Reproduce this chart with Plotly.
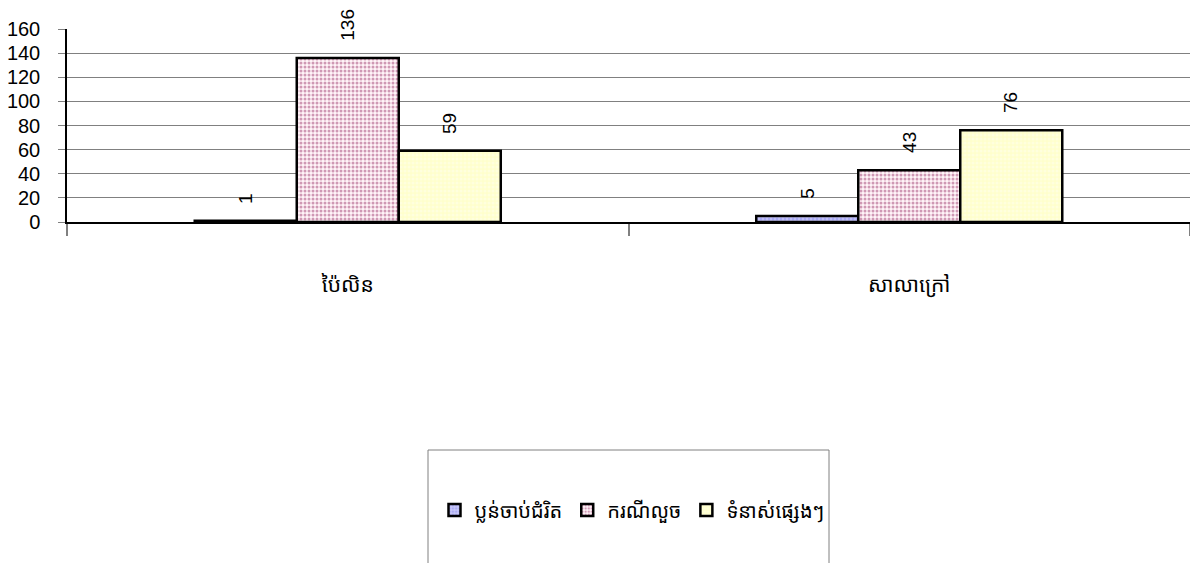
import plotly.graph_objects as go

# Cases by location
categories = ["ប៉ៃលិន", "សាលាក្រៅ"]
series_names = ["ប្លន់ចាប់ជំរិត", "ករណីលួច", "ទំនាស់ផ្សេងៗ"]
robbery_kidnap = [1, 5]
theft = [136, 43]
other_disputes = [59, 76]
y_ticks = [0, 20, 40, 60, 80, 100, 120, 140, 160]

series_values = [robbery_kidnap, theft, other_disputes]
styles = [
    dict(bg="#C8C8F8", fg="#8C8CF0"),
    dict(bg="#FFF4F8", fg="#A03C70"),
    dict(bg="#FFFFCC", fg="#FFFFF0"),
]

W, H = 1190, 563
L, R, T, B = 67, 0, 29, 341
plot_w = W - L - R
plot_h = H - T - B
bargap = 0.455
n_series = len(series_values)
bar_w = (1 - bargap) / n_series

khmer_font = "Noto Sans Khmer, Khmer OS, Khmer OS System, Noto Sans, sans-serif"
fig = go.Figure()
for name, vals, st in zip(series_names, series_values, styles):
    fig.add_trace(go.Bar(
        x=categories, y=vals, name=name,
        marker=dict(
            color=st["bg"],
            line=dict(color="black", width=2.5),
            pattern=dict(shape=".", bgcolor=st["bg"], fgcolor=st["fg"],
                         size=4, solidity=0.45, fillmode="overlay"),
        ),
    ))

# Vertical value labels above each bar
annotations = []
for i, vals in enumerate(series_values):
    for j, v in enumerate(vals):
        annotations.append(dict(
            x=j + (i - (n_series - 1) / 2) * bar_w, y=v,
            xref="x", yref="y", text=str(v), textangle=-90,
            showarrow=False, yanchor="bottom", xanchor="center",
            yshift=15, font=dict(family="Liberation Sans, Arial", size=19, color="black"),
        ))

fig.update_layout(
    width=W, height=H,
    margin=dict(l=L, r=R, t=T, b=B, pad=0),
    paper_bgcolor="white", plot_bgcolor="white",
    barmode="group", bargap=bargap, bargroupgap=0,
    font=dict(family="Liberation Sans, Arial", color="black"),
    showlegend=True,
    legend=dict(
        orientation="h", x=(632 - L) / plot_w, y=(T + plot_h - 510) / plot_h,
        xanchor="center", yanchor="middle",
        font=dict(family=khmer_font, size=20, color="black"),
        bgcolor="rgba(0,0,0,0)", itemwidth=30,
    ),
    annotations=annotations,
    shapes=[dict(
        type="rect", xref="paper", yref="paper",
        x0=(428 - L) / plot_w, x1=(829 - L) / plot_w,
        y0=(T + plot_h - 450) / plot_h, y1=(T + plot_h - 580) / plot_h,
        line=dict(color="#808080", width=1), fillcolor="rgba(0,0,0,0)",
    )],
)

fig.update_xaxes(
    type="category", range=[-0.5, 1.5],
    showline=True, linecolor="black", linewidth=1.5,
    ticks="outside", tickson="boundaries", ticklen=12, tickcolor="#808080", tickwidth=1.5,
    ticklabelstandoff=43,
    tickfont=dict(family=khmer_font, size=21, color="black"),
    showgrid=False, zeroline=False,
)
fig.update_yaxes(
    range=[0, 160], tickvals=y_ticks,
    showline=True, linecolor="black", linewidth=1.5,
    ticks="outside", ticklen=7, tickcolor="#808080",
    showgrid=True, gridcolor="#808080", gridwidth=1,
    zeroline=False, ticklabelstandoff=14,
    tickfont=dict(family="Liberation Sans, Arial", size=20, color="black"),
)

fig.write_html("out.html")
